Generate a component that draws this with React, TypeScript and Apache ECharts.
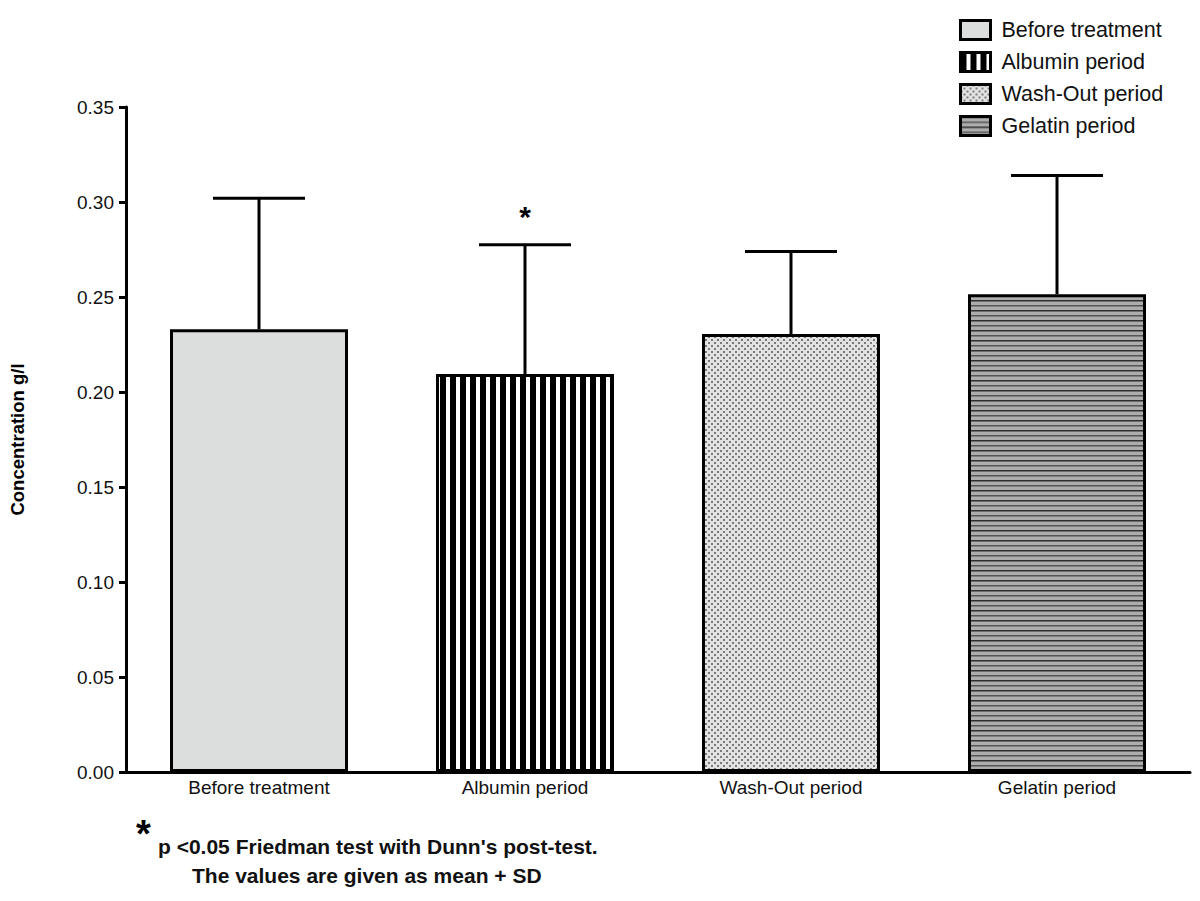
import React, { useEffect, useRef } from "react";
import * as echarts from "echarts";

const categories = ["Before treatment", "Albumin period", "Wash-Out period", "Gelatin period"];
const means = [0.233, 0.2095, 0.2305, 0.2515];
const sds = [0.069, 0.068, 0.0435, 0.0625];
const significant = [false, true, false, false];
const yTicks = { min: 0, max: 0.35, interval: 0.05 };
const footnoteLine1 = "p <0.05 Friedman test with Dunn's post-test.";
const footnoteLine2 = "The values are given as mean + SD";

const FONT = "'Liberation Sans', Arial, Helvetica, sans-serif";

function makeCanvas(w: number, h: number, draw: (ctx: CanvasRenderingContext2D) => void) {
  const c = document.createElement("canvas");
  c.width = w;
  c.height = h;
  const ctx = c.getContext("2d")!;
  draw(ctx);
  return c;
}

function buildPatterns() {
  const plain = "#dcdddd";
  const stripesV = makeCanvas(10, 10, (ctx) => {
    ctx.fillStyle = "#ffffff";
    ctx.fillRect(0, 0, 10, 10);
    ctx.fillStyle = "#000000";
    ctx.fillRect(0, 0, 6, 10);
  });
  const dots = makeCanvas(6, 6, (ctx) => {
    ctx.fillStyle = "#e2e2e2";
    ctx.fillRect(0, 0, 6, 6);
    ctx.fillStyle = "#7a7a7a";
    ctx.fillRect(0, 0, 2, 2);
    ctx.fillRect(3, 3, 2, 2);
  });
  const stripesH = makeCanvas(10, 10, (ctx) => {
    ctx.fillStyle = "#adadad";
    ctx.fillRect(0, 0, 10, 10);
    ctx.fillStyle = "#2e2e2e";
    ctx.fillRect(0, 0, 10, 1.5);
    ctx.fillStyle = "#555555";
    ctx.fillRect(0, 5, 10, 1.5);
  });
  return [
    plain,
    { image: stripesV, repeat: "repeat", imageWidth: 10, imageHeight: 10 },
    { image: dots, repeat: "repeat", imageWidth: 6, imageHeight: 6 },
    { image: stripesH, repeat: "repeat", imageWidth: 10, imageHeight: 10 },
  ];
}

export default function App() {
  const ref = useRef<HTMLDivElement>(null);
  useEffect(() => {
    if (!ref.current) return;
    const chart = echarts.init(ref.current, null, { renderer: "svg" });
    const fills = buildPatterns();

    const barSeries = categories.map((name, i) => ({
      name,
      type: "bar",
      barWidth: 178,
      barGap: "-100%",
      data: categories.map((_, j) => (j === i ? means[j] : "-")),
      itemStyle: { color: fills[i] as any, borderColor: "#000", borderWidth: 3 },
      z: 2,
    }));

    const errData = categories.map((_, i) => [i, means[i], sds[i], significant[i] ? 1 : 0]);

    const option: any = {
      animation: false,
      textStyle: { fontFamily: FONT },
      grid: { left: 126, right: 10, top: 107, bottom: 129, containLabel: false },
      legend: {
        orient: "vertical",
        left: 954,
        top: 14,
        itemWidth: 30,
        itemHeight: 19,
        itemGap: 10,
        icon: "rect",
        selectedMode: false,
        itemStyle: { borderColor: "#000", borderWidth: 3 },
        textStyle: { fontSize: 21.5, color: "#111", fontFamily: FONT, padding: [0, 0, 0, 6] },
        data: categories,
      },
      xAxis: {
        type: "category",
        data: categories,
        axisLine: { lineStyle: { color: "#000", width: 3 } },
        axisTick: { show: false },
        axisLabel: { fontSize: 19, color: "#111", margin: 6, fontFamily: FONT },
      },
      yAxis: {
        type: "value",
        min: yTicks.min,
        max: yTicks.max,
        interval: yTicks.interval,
        name: "Concentration g/l",
        nameLocation: "middle",
        nameGap: 99,
        nameTextStyle: { fontSize: 18.5, fontWeight: "bold", color: "#000", fontFamily: FONT },
        axisLine: { show: true, lineStyle: { color: "#000", width: 3 } },
        axisTick: { show: true, length: 7, lineStyle: { color: "#000", width: 3 } },
        splitLine: { show: false },
        axisLabel: {
          fontSize: 19,
          color: "#111",
          margin: 12,
          fontFamily: FONT,
          formatter: (v: number) => v.toFixed(2),
        },
      },
      series: [
        ...barSeries,
        {
          type: "custom",
          name: "error",
          z: 3,
          silent: true,
          data: errData,
          renderItem: (params: any, api: any) => {
            const idx = api.value(0);
            const m = api.value(1);
            const sd = api.value(2);
            const sig = api.value(3);
            const base = api.coord([idx, m]);
            const top = api.coord([idx, m + sd]);
            const half = 46;
            const children: any[] = [
              {
                type: "line",
                shape: { x1: base[0], y1: base[1], x2: top[0], y2: top[1] },
                style: { stroke: "#000", lineWidth: 3 },
              },
              {
                type: "line",
                shape: { x1: top[0] - half, y1: top[1], x2: top[0] + half, y2: top[1] },
                style: { stroke: "#000", lineWidth: 3 },
              },
            ];
            if (sig) {
              children.push({
                type: "text",
                x: top[0],
                y: top[1] - 28,
                style: {
                  text: "*",
                  fontSize: 30,
                  fontWeight: "bold",
                  fontFamily: FONT,
                  fill: "#000",
                  align: "center",
                  verticalAlign: "middle",
                },
              });
            }
            return { type: "group", children };
          },
        },
      ],
      graphic: [
        {
          type: "text",
          left: 136,
          top: 815,
          style: { text: "*", fontSize: 38, fontWeight: "bold", fontFamily: FONT, fill: "#000" },
        },
        {
          type: "text",
          left: 158,
          top: 836,
          style: { text: footnoteLine1, fontSize: 21, fontWeight: "bold", fontFamily: FONT, fill: "#111" },
        },
        {
          type: "text",
          left: 192,
          top: 865,
          style: { text: footnoteLine2, fontSize: 21, fontWeight: "bold", fontFamily: FONT, fill: "#111" },
        },
      ],
    };
    chart.setOption(option);
    return () => chart.dispose();
  }, []);
  return (
    <div
      ref={ref}
      style={{ position: "fixed", left: 0, top: 0, width: 1200, height: 901, background: "#fff" }}
    />
  );
}
